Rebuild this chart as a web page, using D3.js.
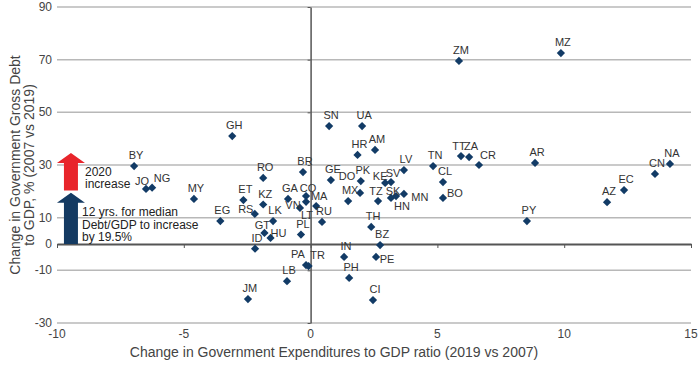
<!DOCTYPE html>
<html>
<head>
<meta charset="utf-8">
<script src="https://cdn.jsdelivr.net/npm/d3@7"></script>
<style>
  body { margin: 0; background: #fff; }
  svg { font-family: "Liberation Sans", Arial, sans-serif; }
</style>
</head>
<body>
<script>
// country codes, change in expenditures/GDP (x), change in gross debt/GDP (y)
const codes = ["BY","JO","NG","MY","EG","GH","RO","ET","KZ","RS","LK","GT","HU","ID","GA","BR","CO","LT","VN","MA","RU","PL","PA","TR","LB","JM",
  "SN","UA","HR","AM","GE","PK","DO","MX","KE","SV","LV","TZ","SK","HN","MN","TH","BZ","IN","PE","PH","CI",
  "TN","TT","ZA","CR","AR","CL","BO","PY","AZ","EC","CN","NA","MZ","ZM"];
const expChange = [-6.96,-6.49,-6.25,-4.6,-3.56,-3.09,-1.87,-2.65,-1.87,-2.2,-1.48,-1.82,-1.58,-2.19,-0.89,-0.3,-0.18,-0.18,-0.42,0.22,0.45,-0.38,-0.18,-0.08,-0.93,-2.47,
  0.73,2.03,1.85,2.54,0.8,1.98,1.95,1.48,2.94,3.17,3.68,2.66,3.17,3.37,3.68,2.39,2.74,1.32,2.58,1.52,2.46,
  4.83,5.93,6.25,6.64,8.85,5.22,5.22,8.53,11.69,12.36,13.58,14.17,9.87,5.85];
const debtChange = [29.6,20.9,21.4,17.1,8.7,41.0,25.1,16.7,15.0,11.4,8.7,4.2,2.3,-1.8,17.1,27.3,18.2,16.0,13.7,14.4,8.4,3.6,-8.0,-8.4,-14.1,-20.9,
  44.8,44.8,33.8,35.7,24.3,23.9,19.4,16.3,23.2,23.5,28.1,16.3,17.5,18.2,19.0,6.5,-0.4,-4.9,-4.9,-12.9,-21.3,
  29.6,33.4,33.0,30.0,30.8,23.5,17.5,8.7,15.9,20.5,26.6,30.4,72.5,69.5];

const xTicks = [-10, -5, 0, 5, 10, 15];
const yTicks = [-30, -10, 0, 10, 30, 50, 70, 90];
const gridLines = [-30, -10, 10, 30, 50, 70, 90];

const medianIncrease = 19.5;   // navy arrow, 2007-2019
const increase2020 = [20.3, 34.6]; // red arrow span
const noteRed = ["2020", "increase"];
const noteNavy = ["12 yrs. for median", "Debt/GDP to increase", "by 19.5%"];

// label nudges (text centre / baseline relative to marker)
const labelNudge = {
  JO: [-4, -4], NG: [10, -6], RS: [-9, -1], GT: [-2, -4], HU: [8, -1], CO: [2, -4],
  VN: [-7, 1], LT: [1, 17], MA: [3, -6], PA: [-8, -7], TR: [9, -7], DO: [-13, -13],
  KE: [-5, -3], SV: [2, -5], TZ: [-2, -6], SK: [2, -3], HN: [6, 14], MN: [16, 7],
  PE: [11, 6], TT: [-2, -6], CR: [9, -6], BO: [12, -1]
};
const defaultNudge = [2, -7];

const width = 700, height = 366;
const plotLeft = 57, plotRight = 691, plotTop = 7, plotBottom = 323;

const x = d3.scaleLinear().domain([-10, 15]).range([plotLeft, plotRight]);
const y = d3.scaleLinear().domain([-30, 90]).range([plotBottom, plotTop]);

const svg = d3.select("body").append("svg")
  .attr("width", width)
  .attr("height", height);

// grid
svg.append("g")
  .selectAll("line")
  .data(gridLines)
  .join("line")
  .attr("x1", plotLeft).attr("x2", plotRight)
  .attr("y1", d => y(d)).attr("y2", d => y(d))
  .attr("stroke", "#b8b8b8")
  .attr("stroke-width", 1.5);

// y tick labels
svg.append("g")
  .selectAll("text")
  .data(yTicks)
  .join("text")
  .attr("x", plotLeft - 5)
  .attr("y", d => y(d) + 4)
  .attr("text-anchor", "end")
  .attr("font-size", 12)
  .attr("fill", "#444")
  .text(d => d);

// x tick labels at the bottom
svg.append("g")
  .selectAll("text")
  .data(xTicks)
  .join("text")
  .attr("x", d => x(d))
  .attr("y", plotBottom + 15)
  .attr("text-anchor", "middle")
  .attr("font-size", 12)
  .attr("fill", "#444")
  .text(d => d);

// zero line with ticks
const xAxis = svg.append("g")
  .attr("transform", `translate(0,${y(0)})`)
  .call(d3.axisBottom(x).tickValues(xTicks).tickSize(4).tickFormat("").tickSizeOuter(0));
xAxis.select(".domain").attr("stroke", "#555").attr("stroke-width", 2);
xAxis.selectAll(".tick line").attr("stroke", "#555");

// vertical axis at x = 0
const yAxis = svg.append("g")
  .attr("transform", `translate(${x(0)},0)`)
  .call(d3.axisLeft(y).tickValues(yTicks).tickSize(3).tickFormat("").tickSizeOuter(0));
yAxis.select(".domain").attr("stroke", "#555").attr("stroke-width", 1.5);
yAxis.selectAll(".tick line").attr("stroke", "#555");

// arrows
function arrow(y0, y1, color) {
  const cx = x(-9.45), sw = 7, hw = 14, hh = 10;
  const b = y(y0), t = y(y1);
  svg.append("path")
    .attr("d", `M${cx - sw},${b} L${cx - sw},${t + hh} L${cx - hw},${t + hh} L${cx},${t} L${cx + hw},${t + hh} L${cx + sw},${t + hh} L${cx + sw},${b} Z`)
    .attr("fill", color);
}
arrow(0, medianIncrease, "#143a62");
arrow(increase2020[0], increase2020[1], "#e8252b");

svg.append("text")
  .attr("font-size", 12)
  .attr("fill", "#222")
  .selectAll("tspan")
  .data(noteRed)
  .join("tspan")
  .attr("x", 85)
  .attr("y", (d, i) => 176 + i * 12)
  .text(d => d);

svg.append("text")
  .attr("font-size", 12)
  .attr("fill", "#222")
  .selectAll("tspan")
  .data(noteNavy)
  .join("tspan")
  .attr("x", 82)
  .attr("y", (d, i) => 216 + i * 12.5)
  .text(d => d);

// points
const pts = codes.map((c, i) => ({ code: c, x: expChange[i], y: debtChange[i] }));

svg.append("g")
  .selectAll("path")
  .data(pts)
  .join("path")
  .attr("d", d3.symbol(d3.symbolSquare, 34)())
  .attr("transform", d => `translate(${x(d.x)},${y(d.y)}) rotate(45)`)
  .attr("fill", "#123b66");

svg.append("g")
  .selectAll("text")
  .data(pts)
  .join("text")
  .attr("x", d => x(d.x) + (labelNudge[d.code] || defaultNudge)[0])
  .attr("y", d => y(d.y) + (labelNudge[d.code] || defaultNudge)[1])
  .attr("text-anchor", "middle")
  .attr("font-size", 11)
  .attr("fill", "#333")
  .text(d => d.code);

// axis titles
svg.append("text")
  .attr("x", 334)
  .attr("y", 357)
  .attr("text-anchor", "middle")
  .attr("font-size", 14)
  .attr("fill", "#444")
  .text("Change in Government Expenditures to GDP ratio (2019 vs 2007)");

svg.append("text")
  .attr("transform", `translate(20,${(plotTop + plotBottom) / 2}) rotate(-90)`)
  .attr("text-anchor", "middle")
  .attr("font-size", 14)
  .attr("fill", "#444")
  .selectAll("tspan")
  .data(["Change in Government Gross Debt", "to GDP, % (2007 vs 2019)"])
  .join("tspan")
  .attr("x", 0)
  .attr("dy", (d, i) => i === 0 ? 0 : 14)
  .text(d => d);
</script>
</body>
</html>
